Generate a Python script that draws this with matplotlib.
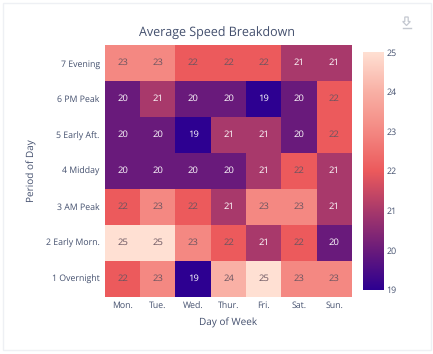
import numpy as np
import matplotlib
matplotlib.use("Agg")
import matplotlib.pyplot as plt
from matplotlib.colors import LinearSegmentedColormap
from matplotlib.patches import Rectangle, Polygon

days = ["Mon.", "Tue.", "Wed.", "Thur.", "Fri.", "Sat.", "Sun."]
periods = ["7 Evening", "6 PM Peak", "5 Early Aft.", "4 Midday", "3 AM Peak", "2 Early Morn.", "1 Overnight"]
evening = [23, 23, 22, 22, 22, 21, 21]
pm_peak = [20, 21, 20, 20, 19, 20, 22]
early_aft = [20, 20, 19, 21, 21, 20, 22]
midday = [20, 20, 20, 20, 21, 22, 21]
am_peak = [22, 23, 22, 21, 23, 23, 21]
early_morn = [25, 25, 23, 22, 21, 22, 20]
overnight = [22, 23, 19, 24, 25, 23, 23]
cbar_ticks = [19, 20, 21, 22, 23, 24, 25]
palette = ["#2d0091", "#6a1b7b", "#a8396b", "#ec5a5c", "#f48882", "#f9b0a5", "#ffe0d3"]

W, H = 433, 354
plt.rcParams["font.family"] = ["Open Sans", "DejaVu Sans"]
plt.rcParams["text.hinting"] = "no_hinting"
ink = "#44506e"
fig = plt.figure(figsize=(W / 100, H / 100), dpi=100, facecolor="white")

def axpx(x0, y0, x1, y1):
    return fig.add_axes([x0 / W, 1 - y1 / H, (x1 - x0) / W, (y1 - y0) / H])

fig.add_artist(Rectangle((3 / W, 1 - 350 / H), 428 / W, 347 / H, transform=fig.transFigure,
                         fc="white", ec="#eef0f4", lw=1, zorder=-5))

cmap = LinearSegmentedColormap.from_list("speed", palette)
data = np.array([evening, pm_peak, early_aft, midday, am_peak, early_morn, overnight])

ax = axpx(105.3, 45, 351.7, 296.7)
ax.imshow(data, cmap=cmap, vmin=19, vmax=25, aspect="auto", interpolation="nearest")
for r, row in enumerate(data):
    for c, v in enumerate(row):
        ax.text(c, r, str(v), ha="center", va="center", fontsize=6.8,
                color="white" if v <= 21 else "#6a5560", fontweight="medium" if v <= 21 else "normal")
ax.set_xticks(range(len(days)), days)
ax.set_yticks(range(len(periods)), periods)
ax.tick_params(length=0, labelsize=6.3, labelcolor=ink)
ax.tick_params(axis="x", pad=3)
ax.tick_params(axis="y", pad=4)
for s in ax.spines.values():
    s.set_visible(False)
fig.text(228 / W, 1 - 322.5 / H, "Day of Week", fontsize=7.2, color=ink, ha="center", va="center")
fig.text(32 / W, 1 - 171 / H, "Period of Day", fontsize=7.2, color=ink, ha="center", va="center",
         rotation=90)
fig.text(217 / W, 1 - 33.5 / H, "Average Speed Breakdown", fontsize=9, color=ink, ha="center", va="center")

cax = axpx(363, 52, 383.7, 289.7)
grad = np.linspace(25, 19, 256).reshape(-1, 1)
cax.imshow(grad, cmap=cmap, vmin=19, vmax=25, aspect="auto", extent=[0, 1, 19, 25])
cax.set_xticks([])
cax.yaxis.tick_right()
cax.set_yticks(cbar_ticks)
cax.tick_params(length=0, labelsize=6.4, labelcolor=ink, pad=2)
for s in cax.spines.values():
    s.set_visible(False)

icon_x = [404.8, 408.2, 408.2, 410.3, 406.5, 402.7, 404.8]
icon_y = [17, 17, 21.5, 21.5, 25.5, 21.5, 21.5]
fig.add_artist(Polygon(np.column_stack([np.array(icon_x) / W, 1 - np.array(icon_y) / H]),
                       closed=True, fc="none", ec="#c4c8d0", lw=0.9, transform=fig.transFigure))
fig.add_artist(plt.Line2D([402.5 / W, 411 / W], [1 - 27.5 / H] * 2, color="#c4c8d0", lw=1))

fig.savefig("out.png", dpi=100)
